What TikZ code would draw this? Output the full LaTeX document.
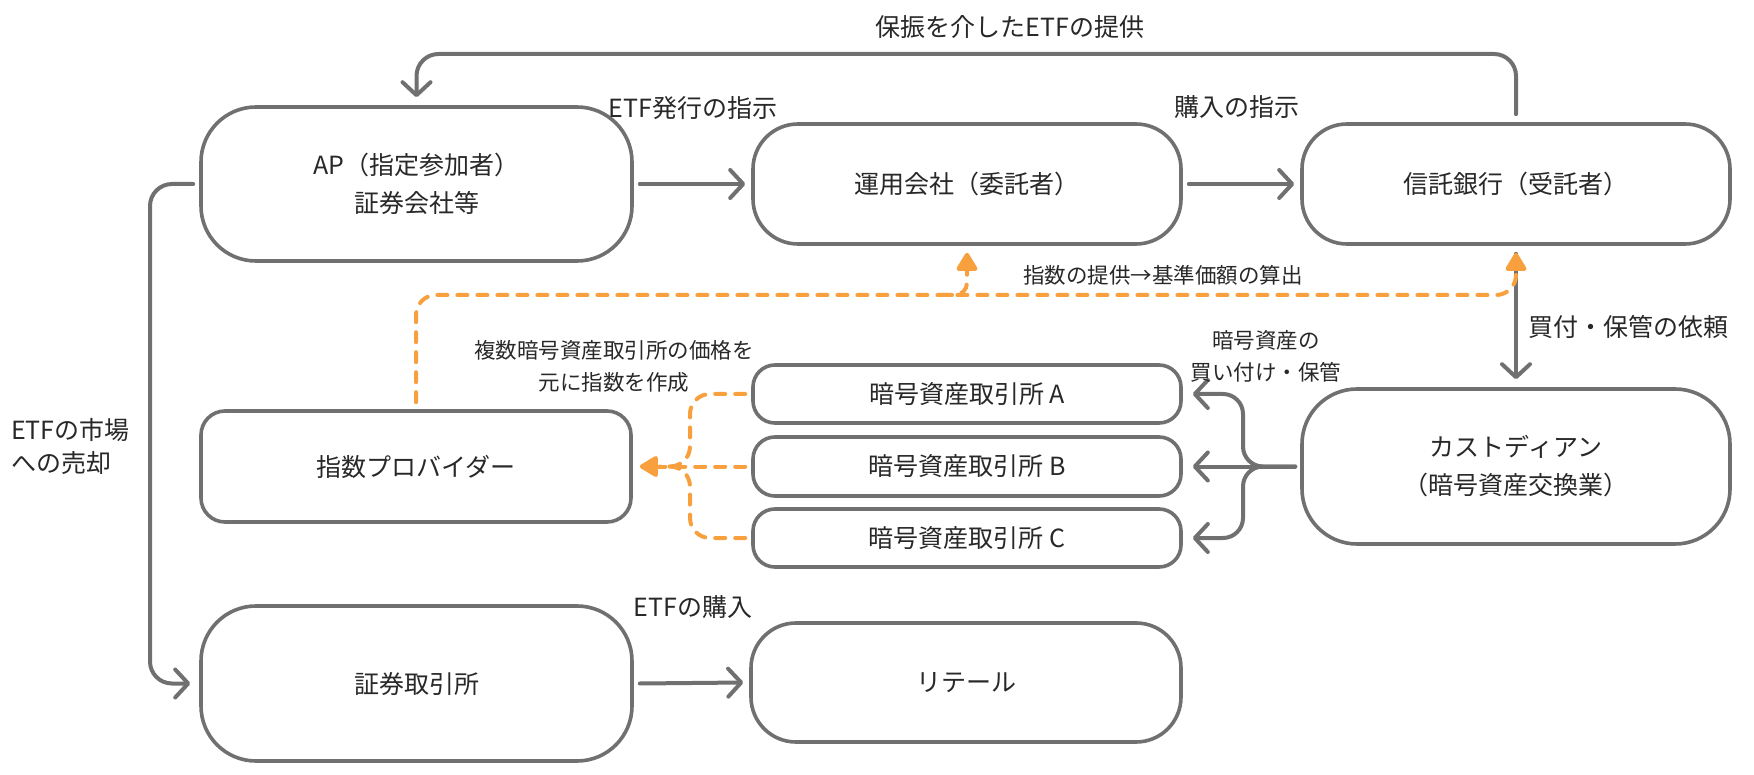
\documentclass[tikz,border=0pt]{standalone}
\usepackage{fontspec}
\setmainfont{Noto Sans CJK JP}
\usetikzlibrary{arrows.meta,calc}
\definecolor{lgray}{RGB}{112,112,112}
\definecolor{orng}{RGB}{248,160,62}
\definecolor{textc}{RGB}{40,40,40}
\begin{document}
\begin{tikzpicture}[x=1pt,y=-1pt,
  box/.style={draw=lgray, line width=3.6pt, fill=white, text=textc, align=center,
    font=\fontsize{25}{38}\selectfont, inner sep=0pt},
  lbl/.style={inner sep=0pt, text=textc, align=center, font=\fontsize{25}{37}\selectfont},
  slbl/.style={inner sep=0pt, text=textc, align=center, font=\fontsize{21.5}{32}\selectfont},
  gline/.style={draw=lgray, line width=4pt, line cap=round},
  garrow/.style={gline, -{Straight Barb[length=13pt,width=28pt,round]}},
  odash/.style={draw=orng, line width=4pt, line cap=round, dash pattern=on 10pt off 10pt},
  oarrow/.style={odash, -{Triangle[length=20pt,width=23pt,round]}}
]
\useasboundingbox (0,0) rectangle (1754,775);
\fill[white] (0,0) rectangle (1754,775);

% boxes
\node[box, rounded corners=55pt, minimum width=431pt, minimum height=154pt] (ap) at (416.5,184) {AP（指定参加者）\\証券会社等};
\node[box, rounded corners=45pt, minimum width=428pt, minimum height=120pt] (unyo) at (967,184) {運用会社（委託者）};
\node[box, rounded corners=45pt, minimum width=428pt, minimum height=120pt] (shin) at (1516,184) {信託銀行（受託者）};
\node[box, rounded corners=24pt, minimum width=430pt, minimum height=111pt] (idx) at (416,466.5) {指数プロバイダー};
\node[box, rounded corners=22pt, minimum width=428pt, minimum height=58pt] (exA) at (967,394) {暗号資産取引所 A};
\node[box, rounded corners=22pt, minimum width=428pt, minimum height=59pt] (exB) at (967,466.5) {暗号資産取引所 B};
\node[box, rounded corners=22pt, minimum width=428pt, minimum height=58pt] (exC) at (967,538) {暗号資産取引所 C};
\node[box, rounded corners=55pt, minimum width=428pt, minimum height=155pt] (cust) at (1516,466.5) {カストディアン\\（暗号資産交換業）};
\node[box, rounded corners=55pt, minimum width=431pt, minimum height=155pt] (sec) at (416.5,683.5) {証券取引所};
\node[box, rounded corners=45pt, minimum width=430pt, minimum height=119pt] (ret) at (966,682.5) {リテール};

% helper coordinates
\coordinate (tj) at (0,54);
\coordinate (lj) at (150,0);
\coordinate (gj) at (1243,0);
\coordinate (oj) at (690,0);
\coordinate (ob) at (0,295);

% gray connectors
\draw[garrow, rounded corners=22pt] ([yshift=8pt]shin.north) -- (shin.north |- tj) -- (ap.north |- tj) -- ([yshift=8pt]ap.north);
\draw[garrow] ([xshift=6pt]ap.east) -- ([xshift=-6pt]unyo.west);
\draw[garrow] ([xshift=6pt]unyo.east) -- ([xshift=-6pt]shin.west);
\draw[garrow, rounded corners=22pt] ([xshift=-6pt]ap.west) -- (lj |- ap.west) |- ([xshift=-9pt]sec.west);
\draw[garrow] ([xshift=6pt]sec.east) -- ([xshift=-6pt]ret.west);
\draw[garrow] ([yshift=-8pt]shin.south) -- ([yshift=8pt]cust.north);
\draw[garrow, rounded corners=20pt] ([xshift=-5pt]cust.west) -- (gj |- cust.west) |- ([xshift=10pt]exA.east);
\draw[garrow] ([xshift=-5pt]cust.west) -- ([xshift=10pt]exB.east);
\draw[garrow, rounded corners=20pt] ([xshift=-5pt]cust.west) -- (gj |- cust.west) |- ([xshift=10pt]exC.east);

% orange connectors
\draw[oarrow, rounded corners=20pt] ([yshift=7pt]idx.north) -- (idx.north |- ob) -- (ob -| shin.south) -- ([yshift=-7pt]shin.south);
\draw[oarrow, rounded corners=12pt] ($(unyo.south |- ob)+(-25,0)$) -| ([yshift=-7pt]unyo.south);
\draw[odash, rounded corners=20pt] ([xshift=-6pt]exA.west) -| (oj |- exB.west) -- ++(-30,0);
\draw[odash, rounded corners=20pt] ([xshift=-6pt]exC.west) -| (oj |- exB.west) -- ++(-30,0);
\draw[oarrow] ([xshift=-6pt]exB.west) -- ([xshift=7pt]idx.east);

% labels
\node[lbl] (l1) at (1010,27) {保振を介したETFの提供};
\node[lbl] (l2) at (693,108) {ETF発行の指示};
\node[lbl] (l3) at (1237,107) {購入の指示};
\node[slbl] (l4) at (1163,275) {指数の提供→基準価額の算出};
\node[lbl] (l5) at (1628,327) {買付・保管の依頼};
\node[slbl] (l6) at (1266,356.5) {暗号資産の\\買い付け・保管};
\node[slbl] (l7) at (614,366) {複数暗号資産取引所の価格を\\元に指数を作成};
\node[lbl, anchor=west, align=left, font=\fontsize{25}{33}\selectfont] (l8) at (11,446) {ETFの市場\\への売却};
\node[lbl] (l9) at (693,607) {ETFの購入};
\end{tikzpicture}
\end{document}
